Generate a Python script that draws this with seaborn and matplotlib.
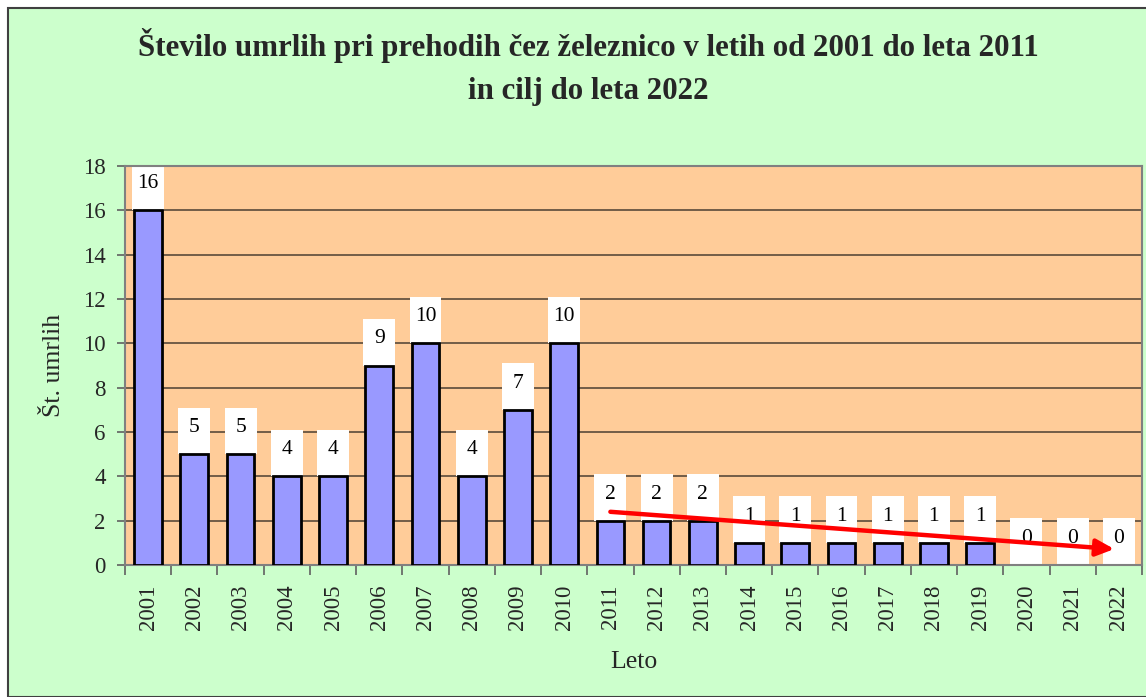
import matplotlib
matplotlib.use("Agg")
import matplotlib.pyplot as plt
from matplotlib.patches import Rectangle
import numpy as np
import pandas as pd
import seaborn as sns

years = [str(y) for y in range(2001, 2023)]
deaths = [16, 5, 5, 4, 4, 9, 10, 4, 7, 10, 2, 2, 2, 1, 1, 1, 1, 1, 1, 0, 0, 0]
y_ticks = [0, 2, 4, 6, 8, 10, 12, 14, 16, 18]
title = "Število umrlih pri prehodih čez železnico v letih od 2001 do leta 2011\nin cilj do leta 2022"
x_label = "Leto"
y_label = "Št. umrlih"
# target trend from 2011 toward 2022
trend_start = (10, 2.4)
trend_end = (20.9, 0.72)

sns.set_theme(style="white")
plt.rcParams["font.family"] = ["Liberation Serif", "DejaVu Serif"]

df = pd.DataFrame({"Leto": years, "Umrli": deaths})

fig = plt.figure(figsize=(11.46, 6.97), dpi=100, facecolor="white")
fig.patches.append(Rectangle((8 / 1146, 0), 1.0, 1 - 8 / 697, transform=fig.transFigure,
                             facecolor="#CCFFCC", edgecolor="#404040", linewidth=1.5,
                             zorder=-10))
ax = fig.add_axes([125 / 1146, 1 - 565 / 697, (1142 - 125) / 1146, (565 - 166) / 697])
ax.set_facecolor("#FFCC99")

# white label boxes above each bar
ax.bar(np.arange(len(years)), [2.1] * len(years), bottom=deaths, width=0.69,
       color="white", linewidth=0, zorder=2)

sns.barplot(data=df, x="Leto", y="Umrli", ax=ax, color="#9999FF", saturation=1,
            width=0.6, edgecolor="black", linewidth=2, zorder=3)
for patch in ax.patches:
    if patch.get_height() == 0:
        patch.set_visible(False)

for i, v in enumerate(deaths):
    ax.text(i, v + 1.2, str(v), ha="center", va="center", fontsize=15.5, color="black", zorder=5)

ax.annotate("", xy=trend_end, xytext=trend_start,
            arrowprops=dict(arrowstyle="-|>,head_length=0.9,head_width=0.42",
                            color="#FF0000", lw=3.2, shrinkA=0, shrinkB=0), zorder=6)

ax.set_ylim(0, 18)
ax.set_xlim(-0.5, len(years) - 0.5)
ax.set_yticks(y_ticks)
ax.set_yticklabels([str(t) for t in y_ticks], fontsize=16.5)
ax.yaxis.grid(True, color="#5a4a3a", linewidth=1.2)
ax.set_axisbelow(True)
ax.tick_params(axis="y", direction="out", length=6, width=1.2, color="#606060", pad=8, left=True)

ax.set_xticks(range(len(years)))
ax.set_xticklabels(years, rotation=90, fontsize=16.5)
ax.set_xticks(np.arange(-0.5, len(years), 1), minor=True)
ax.tick_params(axis="x", which="major", length=0, pad=14)
ax.tick_params(axis="x", which="minor", direction="out", length=7, width=1.2, color="#606060", bottom=True)

for side in ["left", "bottom", "top", "right"]:
    ax.spines[side].set_color("#808080")
    ax.spines[side].set_linewidth(1.5)

ax.set_xlabel(x_label, fontsize=18.5, labelpad=15)
ax.set_ylabel(y_label, fontsize=18.5, labelpad=13)

fig.text(0.5 + 15 / 1146, 1 - 67 / 697, title, ha="center", va="center",
         fontsize=22.2, fontweight="bold", linespacing=1.6)

fig.savefig("out.png", dpi=100)
